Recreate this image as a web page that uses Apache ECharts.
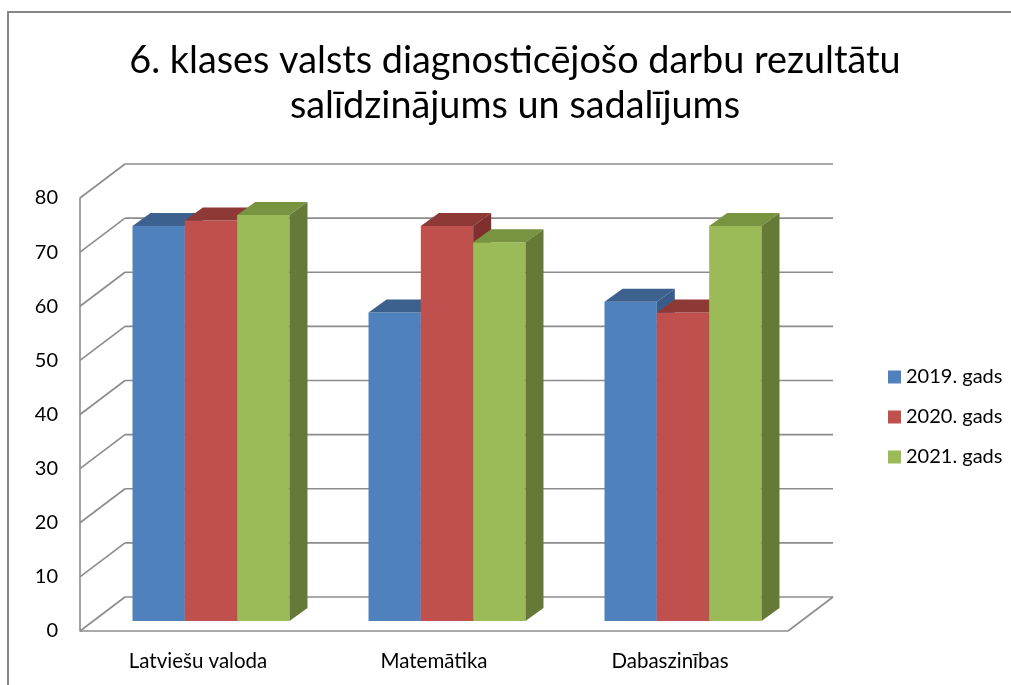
<!DOCTYPE html>
<html>
<head>
<meta charset="utf-8">
<script src="https://cdn.jsdelivr.net/npm/echarts@6/dist/echarts.min.js"></script>
<style>
  html, body { margin: 0; padding: 0; background: #fff; }
  #chart { width: 1011px; height: 685px; }
</style>
</head>
<body>
<div id="chart"></div>
<script>
// data
const subjects = ['Latviešu valoda', 'Matemātika', 'Dabaszinības']
const years = ['2019. gads', '2020. gads', '2021. gads']
const results2019 = [73, 57, 59]
const results2020 = [74, 73, 57]
const results2021 = [75, 70, 73]
const yTicks = [0, 10, 20, 30, 40, 50, 60, 70, 80]

// front / top / side shades like the excel 3d columns
const shades = [
  { front: '#4f81bd', top: '#3c618f', side: '#385d8a' },
  { front: '#c0504d', top: '#8e3936', side: '#7f302e' },
  { front: '#9bbb59', top: '#789440', side: '#667a38' }
]
const gridColor = '#8c8c8c'
const fontName = 'Lato'
const wallDepth = [45, -34] // floor / wall depth in px
const barDepth = [18, -13] // depth of one column
const barShare = 0.2217 // column width as part of a category band

function barSeries(name, data, idx) {
  return {
    name: name,
    type: 'custom',
    xAxisIndex: 0,
    yAxisIndex: 0,
    z: 10,
    itemStyle: { color: shades[idx].front },
    data: data.map((v, i) => [i, v]),
    renderItem: function(params, api) {
      let top = api.coord([api.value(0), api.value(1)])
      let base = api.coord([api.value(0), 0])
      let band = api.size([1, 0])[0]
      let bw = band * barShare
      let x0 = top[0] - 1.5 * bw + idx * bw
      let x1 = x0 + bw
      let dx = barDepth[0]
      let dy = barDepth[1]
      let c = shades[idx]
      return {
        type: 'group',
        children: [
          {
            type: 'rect',
            shape: { x: x0, y: top[1], width: bw, height: base[1] - top[1] },
            style: { fill: c.front }
          },
          {
            type: 'polygon',
            shape: { points: [[x0, top[1]], [x1, top[1]], [x1 + dx, top[1] + dy], [x0 + dx, top[1] + dy]] },
            style: { fill: c.top }
          },
          {
            type: 'polygon',
            shape: { points: [[x1, top[1]], [x1 + dx, top[1] + dy], [x1 + dx, base[1] + dy], [x1, base[1]]] },
            style: { fill: c.side }
          }
        ]
      }
    }
  }
}

// back wall gridlines, left wall diagonals and the floor
const wallSeries = {
  type: 'custom',
  xAxisIndex: 1,
  yAxisIndex: 1,
  z: 1,
  silent: true,
  data: yTicks.map(v => [0, v]),
  renderItem: function(params, api) {
    let cs = params.coordSys
    let y = api.coord([0, api.value(1)])[1]
    let left = cs.x
    let right = cs.x + cs.width
    let dx = wallDepth[0]
    let dy = wallDepth[1]
    let line = { stroke: gridColor, lineWidth: 1.6 }
    let children = [
      { type: 'line', shape: { x1: left, y1: y, x2: left + dx, y2: y + dy }, style: line },
      { type: 'line', shape: { x1: left + dx, y1: y + dy, x2: right + dx, y2: y + dy }, style: line }
    ]
    if (api.value(1) === 0) {
      children.push({ type: 'line', shape: { x1: left, y1: y, x2: right, y2: y }, style: line })
      children.push({ type: 'line', shape: { x1: right, y1: y, x2: right + dx, y2: y + dy }, style: line })
    }
    return { type: 'group', children: children }
  }
}

let chart = echarts.init(document.getElementById('chart'))
chart.setOption({
  animation: false,
  backgroundColor: '#fff',
  title: {
    text: '6. klases valsts diagnosticējošo darbu rezultātu\nsalīdzinājums un sadalījums',
    left: 510,
    top: 33,
    textAlign: 'center',
    textStyle: {
      fontFamily: fontName,
      fontSize: 37.8,
      fontWeight: 'normal',
      color: '#000',
      lineHeight: 45
    }
  },
  legend: {
    orient: 'vertical',
    left: 883,
    top: 361,
    itemWidth: 13,
    itemHeight: 13,
    itemGap: 18,
    icon: 'rect',
    textStyle: { fontFamily: fontName, fontSize: 20, color: '#000', lineHeight: 22 },
    data: years.map((y, i) => ({ name: y, itemStyle: { color: shades[i].front } }))
  },
  graphic: [
    {
      type: 'rect',
      shape: { x: 8, y: 12, width: 1100, height: 800 },
      style: { fill: 'none', stroke: '#878787', lineWidth: 2 },
      silent: true
    }
  ],
  grid: [
    // plane of the column fronts
    { left: 93, right: 210, top: 188, bottom: 64 },
    // front plane with the axes
    { left: 80, right: 223, top: 198, bottom: 54 }
  ],
  xAxis: [
    {
      gridIndex: 0,
      type: 'category',
      data: subjects,
      show: false
    },
    {
      gridIndex: 1,
      type: 'category',
      data: subjects,
      axisLine: { show: false },
      axisTick: { show: false },
      axisLabel: { margin: 20, fontFamily: fontName, fontSize: 20.5, color: '#000' }
    }
  ],
  yAxis: [
    {
      gridIndex: 0,
      type: 'value',
      min: 0,
      max: 80,
      interval: 10,
      show: false
    },
    {
      gridIndex: 1,
      type: 'value',
      min: 0,
      max: 80,
      interval: 10,
      axisLine: { show: true, lineStyle: { color: gridColor, width: 1.6 } },
      axisTick: { show: false },
      splitLine: { show: false },
      axisLabel: { margin: 22, fontFamily: fontName, fontSize: 20, color: '#000' }
    }
  ],
  series: [
    wallSeries,
    barSeries(years[0], results2019, 0),
    barSeries(years[1], results2020, 1),
    barSeries(years[2], results2021, 2)
  ]
})
</script>
</body>
</html>
